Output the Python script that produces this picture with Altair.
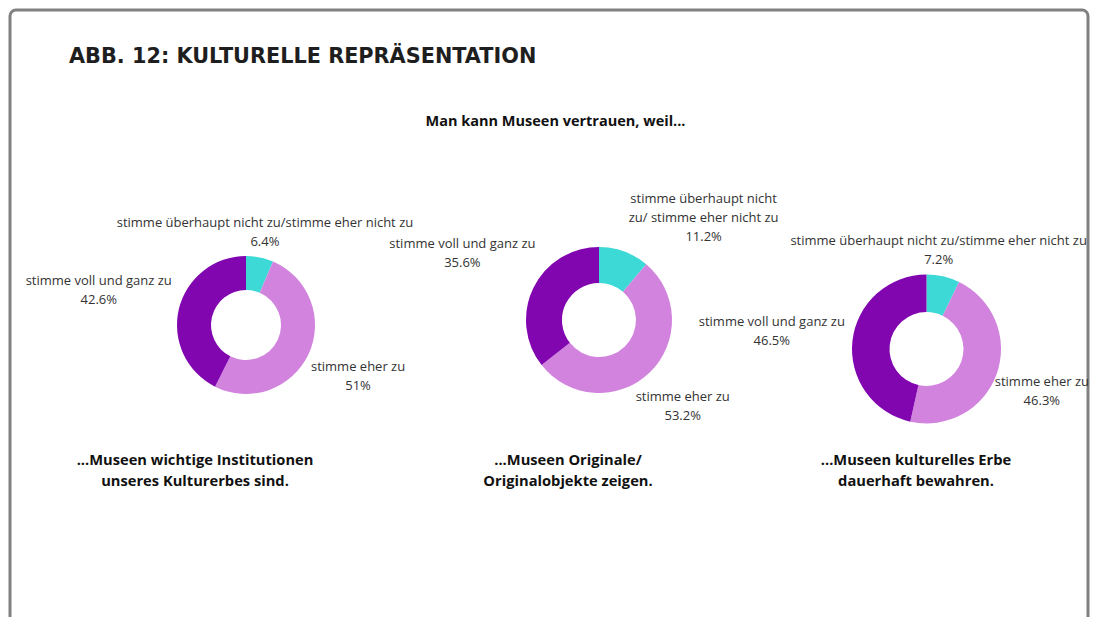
import math
import altair as alt
import pandas as pd

# ---------------- data ----------------
categories = [
    "stimme überhaupt nicht zu/stimme eher nicht zu",
    "stimme eher zu",
    "stimme voll und ganz zu",
]
colors = ["#3dd9d6", "#d183dd", "#8106b0"]

q1_values = [6.4, 51, 42.6]
q2_values = [11.2, 53.2, 35.6]
q3_values = [7.2, 46.3, 46.5]

q1_labels = ["stimme überhaupt nicht zu/stimme eher nicht zu", "stimme eher zu", "stimme voll und ganz zu"]
q2_labels = ["stimme überhaupt nicht\nzu/ stimme eher nicht zu", "stimme eher zu", "stimme voll und ganz zu"]
q3_labels = ["stimme überhaupt nicht zu/stimme eher nicht zu", "stimme eher zu", "stimme voll und ganz zu"]

captions = [
    "...Museen wichtige Institutionen\nunseres Kulturerbes sind.",
    "...Museen Originale/\nOriginalobjekte zeigen.",
    "...Museen kulturelles Erbe\ndauerhaft bewahren.",
]
title_text = "ABB. 12: KULTURELLE REPRÄSENTATION"
subtitle_text = "Man kann Museen vertrauen, weil..."

# ---------------- layout (page pixels) ----------------
FONT = "Open Sans"
TITLE_FONT = "DejaVu Sans"
TOP = 150
PIE_CX = [247, 600, 927.5]
PIE_CY = [326, 321, 350]
R_OUT = [69, 73, 74.5]
R_IN = [35, 37, 37]
CAP_X = [196, 569, 917]
CAP_Y = 466
COL_BOUNDS = [(14, 416), (14, 800), (14, 1088)]
FRAME_L, FRAME_R, FRAME_T, FRAME_B = 11, 1089, 11, 660
LEFT0 = 100
LH = 19          # label line height
CW = 6.45        # approx. label char width
GAP = 6          # label distance from the ring

lefts, widths = [], []
cur = LEFT0
for cx in PIE_CX:
    lefts.append(cur)
    w = 2 * (cx - cur)
    widths.append(w)
    cur += w
heights = [2 * (cy - TOP) for cy in PIE_CY]


def place_label(theta, text, r_out, col, wrapped):
    """Pie-label layout: box centred on the slice's mid ray, just outside the
    ring; wrapped labels start at the ring anchor; kept inside the column.
    Returns the first-line anchor as (theta fraction, radius)."""
    lines = text.split("\n")
    n = len(lines)
    w = max(len(l) for l in lines) * CW
    h = n * LH - 2
    D = r_out + GAP
    sx, sy = math.sin(theta), -math.cos(theta)

    def box_dist(cx, cy):
        dx = max(abs(cx) - w / 2, 0)
        dy = max(abs(cy) - h / 2, 0)
        return math.hypot(dx, dy)

    lo, hi = 0.0, 800.0
    for _ in range(60):
        mid = (lo + hi) / 2
        if box_dist(mid * sx, mid * sy) < D:
            lo = mid
        else:
            hi = mid
    cx, cy = hi * sx, hi * sy

    if wrapped:
        ax = D * sx
        cx = ax + w / 2 if sx >= 0 else ax - w / 2
        x0, x1 = cx - w / 2, cx + w / 2
        ddx = 0 if x0 <= 0 <= x1 else min(abs(x0), abs(x1))
        ddy = math.sqrt(max(D * D - ddx * ddx, 0))
        cy = (-ddy - h / 2) if sy < 0 else (ddy + h / 2)

    cl, cr = col
    if cx + w / 2 > cr:
        cx = cr - w / 2
    if cx - w / 2 < cl:
        cx = cl + w / 2

    fy = cy - (n - 1) * LH / 2
    ang = math.atan2(cx, -fy) % (2 * math.pi)
    return ang / (2 * math.pi), math.hypot(cx, fy)


theta_scale = alt.Scale(domain=[0, 1], range=[0, 2 * math.pi])
color_scale = alt.Scale(domain=categories, range=colors)


def panel(i, values, labels, caption, extra=()):
    total = sum(values)
    acc = 0.0
    rows = []
    col = (COL_BOUNDS[i][0] - PIE_CX[i], COL_BOUNDS[i][1] - PIE_CX[i])
    for cat, v, lab in zip(categories, values, labels):
        t0 = acc / total
        acc += v
        t1 = acc / total
        tm = (t0 + t1) / 2
        txt = f"{lab}\n{v:g}%"
        lt, lr = place_label(tm * 2 * math.pi, txt, R_OUT[i], col, "\n" in lab)
        rows.append(dict(cat=cat, v=v, t0=t0, t1=t1, lt=lt, lr=lr, lab=txt))
    df = pd.DataFrame(rows)
    base = alt.Chart(df)
    arcs = base.mark_arc(outerRadius=R_OUT[i], innerRadius=R_IN[i]).encode(
        theta=alt.Theta("t0:Q", scale=theta_scale, stack=None),
        theta2="t1:Q",
        color=alt.Color("cat:N", scale=color_scale, legend=None),
    )
    texts = base.mark_text(
        font=FONT, fontSize=13, lineHeight=LH, lineBreak="\n",
        align="center", baseline="middle", color="#333333",
    ).encode(
        theta=alt.Theta("lt:Q", scale=theta_scale, stack=None),
        radius=alt.Radius("lr:Q", scale=None),
        text="lab:N",
    )
    cap = alt.Chart(pd.DataFrame({"c": [caption]})).mark_text(
        font=FONT, fontSize=14.7, fontWeight="bold", lineHeight=21, lineBreak="\n",
        align="center", baseline="alphabetic", color="#111111",
    ).encode(
        text="c:N",
        x=alt.value(CAP_X[i] - lefts[i]),
        y=alt.value(CAP_Y - TOP),
    )
    return alt.layer(*extra, arcs, texts, cap).properties(width=widths[i], height=heights[i])


L1 = lefts[0]
frame = alt.Chart(pd.DataFrame({"f": [0]})).mark_rect(
    fillOpacity=0, stroke="#808080", strokeWidth=3, cornerRadius=6
).encode(
    x=alt.value(FRAME_L - L1), x2=alt.value(FRAME_R - L1),
    y=alt.value(FRAME_T - TOP), y2=alt.value(FRAME_B - TOP),
)
title = alt.Chart(pd.DataFrame({"t": [title_text]})).mark_text(
    font=TITLE_FONT, fontSize=20.8, fontWeight="bold",
    align="left", baseline="alphabetic", color="#1e1e1e",
).encode(text="t:N", x=alt.value(70 - L1), y=alt.value(64 - TOP))
subtitle = alt.Chart(pd.DataFrame({"t": [subtitle_text]})).mark_text(
    font=FONT, fontSize=14.5, fontWeight="bold",
    align="center", baseline="alphabetic", color="#111111",
).encode(text="t:N", x=alt.value(556.5 - L1), y=alt.value(127 - TOP))

p1 = panel(0, q1_values, q1_labels, captions[0], extra=(frame, title, subtitle))
p2 = panel(1, q2_values, q2_labels, captions[1])
p3 = panel(2, q3_values, q3_labels, captions[2])

chart = alt.hconcat(p1, p2, p3, spacing=0, bounds="flush").properties(
    padding=0, background="white"
).configure_view(strokeWidth=0)

chart.save("out.html", embed_options={"renderer": "svg", "actions": False})
